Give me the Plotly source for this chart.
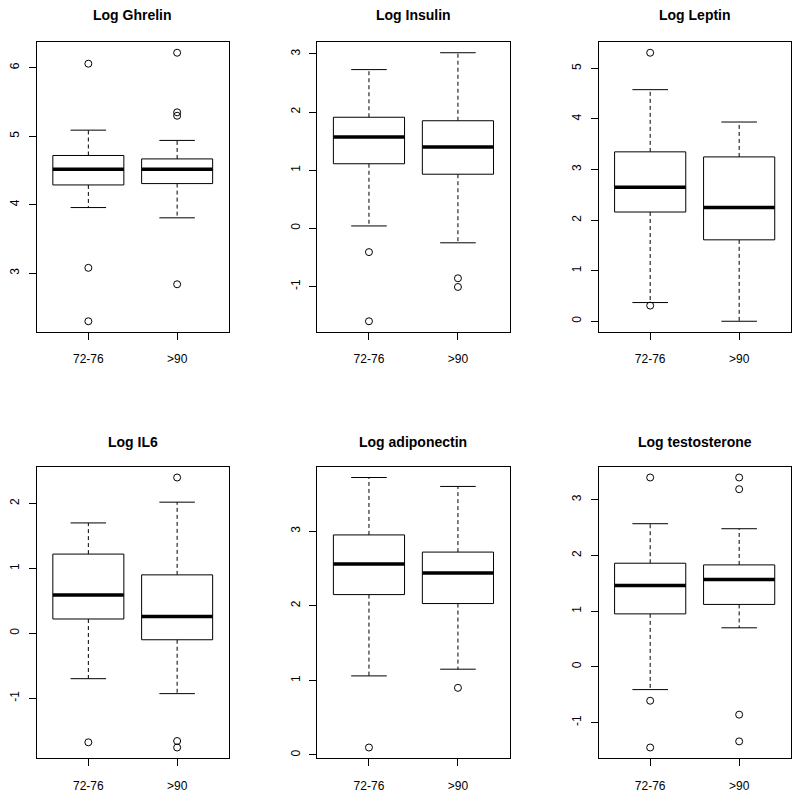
import plotly.graph_objects as go

# ---------------- data ----------------
groups = ["72-76", ">90"]
titles = ["Log Ghrelin", "Log Insulin", "Log Leptin",
          "Log IL6", "Log adiponectin", "Log testosterone"]

# per panel: [group1, group2] -> (lower whisker, Q1, median, Q3, upper whisker)
ghrelin_stats = [(3.96, 4.29, 4.52, 4.72, 5.09), (3.81, 4.31, 4.52, 4.67, 4.94)]
insulin_stats = [(0.04, 1.11, 1.57, 1.91, 2.73), (-0.25, 0.93, 1.40, 1.85, 3.02)]
leptin_stats = [(0.37, 2.16, 2.65, 3.35, 4.58), (0.00, 1.61, 2.25, 3.25, 3.94)]
il6_stats = [(-0.70, 0.22, 0.59, 1.22, 1.70), (-0.93, -0.10, 0.26, 0.90, 2.02)]
adipo_stats = [(1.06, 2.15, 2.56, 2.95, 3.72), (1.15, 2.03, 2.44, 2.72, 3.60)]
testo_stats = [(-0.41, 0.95, 1.46, 1.86, 2.57), (0.70, 1.12, 1.57, 1.83, 2.48)]

ghrelin_out = [[6.06, 3.08, 2.30], [6.22, 5.35, 5.30, 2.84]]
insulin_out = [[-0.41, -1.60], [-0.86, -1.01]]
leptin_out = [[5.31, 0.31], []]
il6_out = [[-1.68], [2.40, -1.66, -1.76]]
adipo_out = [[0.10], [0.90]]
testo_out = [[3.40, -0.61, -1.45], [3.40, 3.19, -0.86, -1.34]]

all_stats = [ghrelin_stats, insulin_stats, leptin_stats, il6_stats, adipo_stats, testo_stats]
all_out = [ghrelin_out, insulin_out, leptin_out, il6_out, adipo_out, testo_out]

y_ticks = [[3, 4, 5, 6], [-1, 0, 1, 2, 3], [0, 1, 2, 3, 4, 5],
           [-1, 0, 1, 2], [0, 1, 2, 3], [-1, 0, 1, 2, 3]]

# ---------------- layout geometry (page pixels) ----------------
OFF = 8                      # default page body margin
W, H = 800 - OFF, 797 - OFF  # figure size
col_px = [(32, 225), (314.3, 507.7), (597.3, 790.7)]
row_px = [(42, 332), (466.7, 758.3)]
title_y_px = [15, 441.7]

BOXW = 0.8
STAPLE = 0.4
FONT = "Liberation Sans, Arial, Helvetica, sans-serif"

fig = go.Figure()
layout = {}
annotations = []

for i in range(6):
    r, c = divmod(i, 3)
    ax = "" if i == 0 else str(i + 1)
    xref, yref = "x" + ax, "y" + ax
    stats = all_stats[i]
    outs = all_out[i]
    for g, (lo, q1, med, q3, hi) in enumerate(stats):
        xc = g + 1
        # dashed whiskers
        fig.add_trace(go.Scatter(
            x=[xc, xc, None, xc, xc], y=[q3, hi, None, q1, lo],
            mode="lines", line=dict(color="black", width=1, dash="4px,3px"),
            xaxis=xref, yaxis=yref, showlegend=False, hoverinfo="skip"))
        # staples
        fig.add_trace(go.Scatter(
            x=[xc - STAPLE / 2, xc + STAPLE / 2, None, xc - STAPLE / 2, xc + STAPLE / 2],
            y=[hi, hi, None, lo, lo],
            mode="lines", line=dict(color="black", width=1),
            xaxis=xref, yaxis=yref, showlegend=False, hoverinfo="skip"))
        # box
        fig.add_trace(go.Scatter(
            x=[xc - BOXW / 2, xc + BOXW / 2, xc + BOXW / 2, xc - BOXW / 2, xc - BOXW / 2],
            y=[q1, q1, q3, q3, q1],
            mode="lines", fill="toself", fillcolor="white",
            line=dict(color="black", width=1),
            xaxis=xref, yaxis=yref, showlegend=False, hoverinfo="skip"))
        # median
        fig.add_trace(go.Scatter(
            x=[xc - BOXW / 2, xc + BOXW / 2], y=[med, med],
            mode="lines", line=dict(color="black", width=3.5),
            xaxis=xref, yaxis=yref, showlegend=False, hoverinfo="skip"))
        # outliers
        if outs[g]:
            fig.add_trace(go.Scatter(
                x=[xc] * len(outs[g]), y=outs[g], mode="markers",
                marker=dict(symbol="circle-open", size=7, color="black",
                            line=dict(width=1, color="black")),
                xaxis=xref, yaxis=yref, showlegend=False, hoverinfo="skip"))

    vals = [v for s in stats for v in s] + [v for o in outs for v in o]
    vmin, vmax = min(vals), max(vals)
    pad = 0.04 * (vmax - vmin)

    x0, x1 = col_px[c]
    y0, y1 = row_px[r]
    axis_common = dict(showline=True, linecolor="black", linewidth=1, mirror=True,
                       ticks="outside", ticklen=7, tickcolor="black", tickwidth=1,
                       showgrid=False, zeroline=False,
                       tickfont=dict(family=FONT, size=12, color="black"))
    layout["xaxis" + ax] = dict(
        domain=[(x0 - OFF) / W, (x1 - OFF) / W], anchor=yref, range=[0.42, 2.58],
        tickvals=[1, 2], ticktext=groups, ticklabelstandoff=9, **axis_common)
    layout["yaxis" + ax] = dict(
        domain=[1 - (y1 - OFF) / H, 1 - (y0 - OFF) / H], anchor=xref,
        range=[vmin - pad, vmax + pad], tickvals=y_ticks[i],
        ticktext=[str(t) for t in y_ticks[i]],
        tickangle=-90, ticklabelstandoff=5, **axis_common)
    annotations.append(dict(
        text="<b>" + titles[i] + "</b>",
        x=((x0 + x1) / 2 - OFF) / W, y=1 - (title_y_px[r] - OFF) / H,
        xref="paper", yref="paper", xanchor="center", yanchor="middle",
        showarrow=False, font=dict(family=FONT, size=14, color="black")))

fig.update_layout(
    width=W, height=H, margin=dict(l=0, r=0, t=0, b=0),
    paper_bgcolor="white", plot_bgcolor="white",
    annotations=annotations, showlegend=False, **layout)

fig.write_html("out.html")
